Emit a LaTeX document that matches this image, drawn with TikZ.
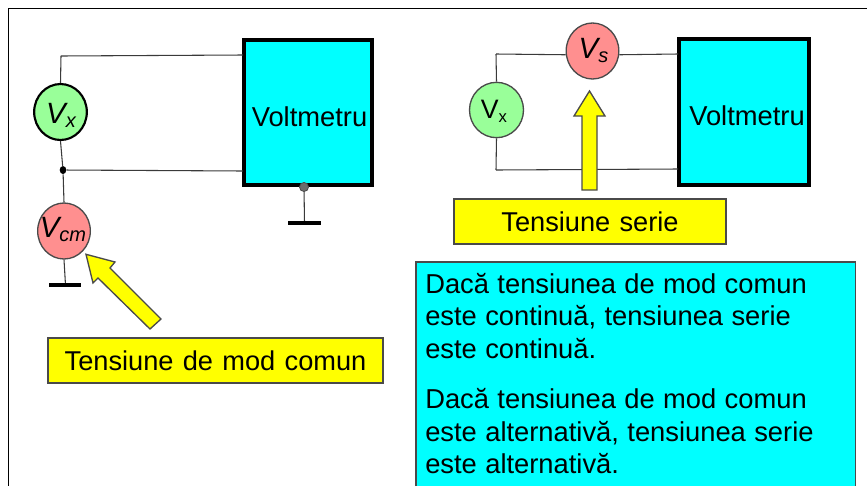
\documentclass[tikz,border=0pt]{standalone}
\usepackage{fontspec}
\setmainfont{Liberation Sans}
\usetikzlibrary{shapes.geometric}
\definecolor{cy}{HTML}{00FFFF}
\definecolor{yl}{HTML}{FFFF00}
\definecolor{gn}{HTML}{99FF99}
\definecolor{pk}{HTML}{FF8F8F}
\definecolor{wirec}{HTML}{3A3A3A}
\definecolor{edgec}{HTML}{4A4A4A}
\newcommand{\lblfont}{\fontsize{20.4}{24}\selectfont\spaceskip 7pt\relax}
\newcommand{\infofont}{\fontsize{20.5}{24}\selectfont\spaceskip 6.3pt\relax}
\tikzset{
  wire/.style={draw=wirec,line width=0.8},
  groundbar/.style={draw=black,line width=2.8},
  meter/.style={draw=black,line width=2.5,fill=cy,inner sep=0},
  metertext/.style={inner sep=0,font=\fontsize{20.5}{24}\selectfont},
  src/.style={ellipse,inner sep=0,draw=edgec,line width=1},
  srcbold/.style={ellipse,inner sep=0,draw=black,line width=1.6},
  srctext/.style={anchor=base,inner sep=0},
  label box/.style={draw=edgec,line width=1,fill=yl,inner sep=0,font=\lblfont},
  arrowshape/.style={draw=edgec,line width=1,fill=yl,line join=miter},
  infotext/.style={anchor=base west,inner sep=0,font=\infofont},
}
\newcommand{\bigV}[1]{{\fontsize{22}{26}\selectfont\itshape V}{\fontsize{15}{18}\selectfont\raisebox{-3.5pt}{\itshape #1}}}
\begin{document}
\begin{tikzpicture}[x=0.75pt,y=-0.75pt]
\useasboundingbox (0,0) rectangle (867,486);
\fill[white] (0,0) rectangle (867,486);
\draw[black,line width=1] (867,8.5) -- (8.5,8.5) -- (8.5,486);

% left circuit
\node[meter,minimum width=96pt,minimum height=108.75pt] (vml) at (308,112.5) {};
\node[metertext] (vmlt) at (309.5,117) {Voltmetru};
\node[srcbold,fill=gn,minimum width=39.5pt,minimum height=42pt] (vx1) at (60.5,112) {};
\node[srctext] (vx1t) at (61,123) {\bigV{x}};
\node[src,fill=pk,minimum width=39.5pt,minimum height=42pt] (vcm) at (64,231) {};
\node[srctext] (vcmt) at (63,237) {\bigV{cm}};
\coordinate (c1) at (61,56);
\coordinate (vml1) at (243,55);
\coordinate (vml2) at (243,171);
\node[ellipse,fill=black,inner sep=0,minimum width=5pt,minimum height=6pt] (dot1) at (63,170) {};
\node[circle,fill=gray!85!black,draw=edgec,line width=0.6,inner sep=0,minimum size=6.8pt] (dot2) at (304,187) {};
\coordinate (g1) at (65.5,285);
\coordinate (g1a) at (49,285);
\coordinate (g1b) at (81,285);
\coordinate (g2) at (304.5,223);
\coordinate (g2a) at (288,223);
\coordinate (g2b) at (321,223);
\draw[wire] (c1) -- (vml1);
\draw[wire] (c1) -- (vx1.north);
\draw[wire] (vx1.south) -- (dot1);
\draw[wire] (dot1) -- (vcm.north);
\draw[wire] (dot1) -- (vml2);
\draw[wire] (vcm.south) -- (g1);
\draw[groundbar] (g1a) -- (g1b);
\draw[wire] (dot2) -- (g2);
\draw[groundbar] (g2a) -- (g2b);

% right circuit
\node[meter,minimum width=97.5pt,minimum height=109.5pt] (vmr) at (744,112) {};
\node[metertext] (vmrt) at (747,116) {Voltmetru};
\node[src,fill=gn,minimum width=40.5pt,minimum height=41.5pt] (vx2) at (496.5,110) {};
\node[srctext] (vx2t) at (494,118) {{\fontsize{20}{24}\selectfont V}{\fontsize{12.5}{15}\selectfont\raisebox{-3.5pt}{x}}};
\node[src,fill=pk,minimum width=39.5pt,minimum height=42pt] (vs) at (592.5,51) {};
\node[srctext] (vst) at (593.5,58) {\bigV{s}};
\coordinate (c2) at (496,54);
\coordinate (c3) at (496,170);
\coordinate (vmr1) at (678,54);
\coordinate (vmr2) at (678,169);
\draw[wire] (c2) -- (vs.188);
\draw[wire] (vs.-8) -- (vmr1);
\draw[wire] (c2) -- (vx2.north);
\draw[wire] (vx2.south) -- (c3);
\draw[wire] (c3) -- (vmr2);

% arrows
\draw[arrowshape] (589.5,91) -- (605,116) -- (597,116) -- (597,190) -- (582,190) -- (582,116) -- (574,116) -- cycle;
\draw[arrowshape] (86,254.3) -- (115,262) -- (110,268) -- (161,319) -- (150,329) -- (98,278) -- (93,283) -- cycle;

% labels
\node[label box,minimum width=204pt,minimum height=33.75pt] (ts) at (590,221.5) {Tensiune serie};
\node[label box,minimum width=251.25pt,minimum height=33.75pt] (tm) at (215.5,360.5) {Tensiune de mod comun};

% info box
\fill[cy] (416,262) rectangle (855.5,486);
\draw[edgec,line width=1] (416,486) -- (416,262) -- (855.5,262) -- (855.5,486);
\node[infotext] (l1) at (425,293) {Dacă tensiunea de mod comun};
\node[infotext] (l2) at (425,325.7) {este continuă, tensiunea serie};
\node[infotext] (l3) at (425,358) {este continuă.};
\node[infotext] (l4) at (425,408) {Dacă tensiunea de mod comun};
\node[infotext] (l5) at (425,441) {este alternativă, tensiunea serie};
\node[infotext] (l6) at (425,473) {este alternativă.};
\end{tikzpicture}
\end{document}
